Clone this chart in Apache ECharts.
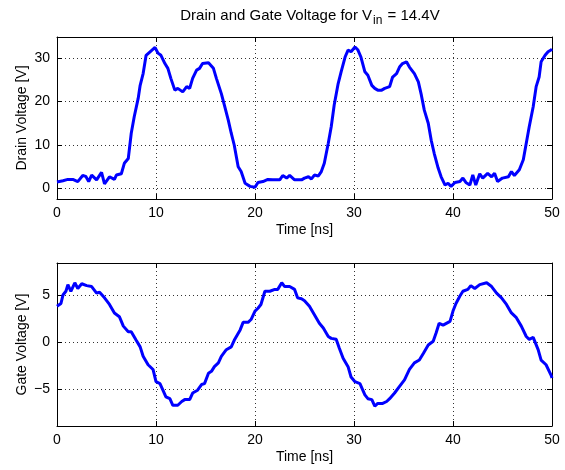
<!DOCTYPE html>
<html>
<head>
<meta charset="utf-8">
<script src="https://cdn.jsdelivr.net/npm/echarts@6/dist/echarts.min.js"></script>
<style>
  html, body { margin: 0; padding: 0; background: #fff; }
  #main { width: 565px; height: 470px; }
</style>
</head>
<body>
<div id="main"></div>
<script>
// drain voltage trace (ns, V)
const drainTime = [
  0, 0.1, 0.6, 1.1, 1.6, 2.1, 2.6, 2.9, 3.2, 3.5,
  4.0, 4.5, 4.8, 5.3, 5.8, 6.0, 6.5, 6.8, 7.2, 7.5,
  7.8, 8.2, 8.4, 8.7, 9.0, 9.4, 9.9, 10.2, 10.5, 10.9,
  11.2, 11.5, 11.9, 12.2, 12.7, 13.1, 13.4, 13.7, 14.1, 14.4,
  14.7, 15.3, 15.8, 16.1, 16.6, 16.9, 17.3, 17.6, 17.9, 18.3,
  18.6, 19.0, 19.5, 20.0, 20.3, 20.8, 21.3, 21.8, 22.5, 22.8,
  23.2, 23.5, 24.0, 24.7, 25.0, 25.4, 25.7, 26.0, 26.4, 26.7,
  27.0, 27.4, 27.7, 28.0, 28.4, 28.7, 29.1, 29.4, 29.7, 30.1,
  30.4, 30.7, 31.1, 31.4, 31.8, 32.1, 32.4, 32.8, 33.1, 33.6,
  33.9, 34.3, 34.6, 34.9, 35.3, 35.6, 36.1, 36.5, 36.8, 37.1,
  37.5, 37.8, 38.1, 38.5, 38.8, 39.2, 39.5, 39.8, 40.2, 40.7,
  41.0, 41.3, 41.7, 42.0, 42.3, 42.7, 43.0, 43.5, 43.9, 44.2,
  44.5, 45.0, 45.6, 45.9, 46.2, 46.7, 47.1, 47.4, 47.7, 48.1,
  48.4, 48.7, 48.9, 49.3, 49.6, 49.9, 50
];
const drainVolt = [
  1.5, 1.2, 1.8, 2.1, 2.1, 1.6, 3.0, 2.8, 1.6, 3.1,
  2.0, 3.7, 1.1, 2.7, 2.1, 3.1, 3.4, 5.8, 6.9, 12.7,
  16.5, 20.7, 23.7, 26.4, 30.6, 31.4, 32.4, 31.1, 30.6, 28.7,
  27.6, 25.3, 22.6, 23.0, 22.2, 23.4, 23.0, 25.3, 27.2, 27.6,
  28.7, 28.9, 27.6, 25.3, 21.8, 19.2, 15.7, 12.7, 10.0, 5.0,
  3.9, 1.2, 0.5, 0.3, 1.4, 1.6, 2.1, 2.0, 2.0, 3.0,
  2.4, 3.0, 2.0, 2.0, 2.4, 2.7, 2.2, 3.1, 2.9, 3.9,
  5.8, 10.4, 14.2, 19.2, 24.1, 26.8, 30.2, 31.8, 31.4, 32.5,
  31.8, 30.2, 26.8, 26.0, 23.7, 23.0, 22.6, 22.6, 23.0, 23.4,
  25.6, 26.4, 27.9, 28.7, 29.1, 27.9, 26.4, 24.5, 21.5, 18.0,
  15.0, 11.1, 8.1, 4.7, 2.7, 0.8, 1.2, 0.5, 1.4, 1.6,
  2.4, 1.4, 0.8, 3.1, 0.8, 3.4, 2.4, 3.5, 2.7, 3.5,
  1.6, 2.4, 2.7, 3.9, 3.0, 4.3, 6.6, 10.4, 14.2, 18.8,
  23.4, 25.6, 29.1, 30.6, 31.4, 31.8, 32.0
];

// gate voltage trace (ns, V)
const gateTime = [
  0, 0.1, 0.4, 0.6, 0.9, 1.1, 1.4, 1.8, 2.1, 2.5,
  3.0, 3.5, 4.0, 4.3, 4.8, 5.3, 5.8, 6.3, 6.7, 7.2,
  7.5, 8.0, 8.4, 8.7, 9.2, 9.7, 10.0, 10.4, 10.7, 11.0,
  11.4, 11.7, 12.2, 12.6, 12.9, 13.4, 13.7, 14.2, 14.6, 14.9,
  15.3, 15.6, 15.9, 16.3, 16.6, 17.1, 17.6, 17.9, 18.5, 18.8,
  19.3, 19.6, 20.0, 20.3, 20.6, 21.0, 21.5, 22.0, 22.3, 22.7,
  23.0, 23.5, 24.0, 24.3, 24.7, 25.0, 25.5, 26.0, 26.5, 26.9,
  27.4, 27.7, 28.2, 28.5, 28.9, 29.4, 29.7, 30.1, 30.6, 31.1,
  31.4, 31.8, 32.1, 32.4, 32.9, 33.3, 33.6, 34.1, 34.6, 35.1,
  35.6, 36.1, 36.6, 37.0, 37.5, 38.0, 38.3, 38.6, 39.0, 39.7,
  40.0, 40.3, 40.7, 41.0, 41.5, 41.8, 42.2, 42.7, 43.4, 43.9,
  44.4, 44.9, 45.4, 45.9, 46.4, 46.9, 47.4, 47.7, 48.1, 48.6,
  48.9, 49.4, 49.9, 50
];
const gateVolt = [
  3.8, 4.0, 4.1, 5.0, 5.4, 6.1, 5.4, 6.3, 5.7, 6.2,
  6.0, 5.9, 5.2, 5.3, 4.7, 4.0, 3.1, 2.7, 1.7, 1.1,
  1.1, 0.2, -0.5, -1.5, -2.4, -2.9, -4.2, -4.4, -5.1, -5.8,
  -6.0, -6.7, -6.7, -6.3, -6.1, -6.1, -5.4, -5.1, -4.5, -4.4,
  -3.3, -3.1, -2.6, -2.2, -1.5, -0.8, -0.5, 0.2, 1.3, 2.1,
  2.1, 2.4, 3.3, 3.6, 4.0, 5.4, 5.4, 5.6, 5.6, 6.3,
  5.9, 5.9, 5.6, 4.7, 4.6, 4.4, 3.8, 2.9, 2.0, 1.5,
  0.6, 0.4, 0.3, -0.6, -1.7, -2.6, -3.7, -4.2, -4.4, -5.6,
  -6.0, -6.1, -6.8, -6.5, -6.5, -6.3, -6.0, -5.4, -4.7, -4.0,
  -2.9, -2.2, -1.9, -1.2, -0.3, 0.1, 1.0, 2.0, 1.8, 2.2,
  3.3, 4.1, 4.9, 5.4, 5.6, 6.0, 5.7, 6.1, 6.3, 5.9,
  5.2, 4.7, 4.0, 3.1, 2.6, 1.7, 0.6, 0.3, 0.5, -0.8,
  -1.9, -2.4, -3.5, -3.8
];

const timeTicks = [0, 10, 20, 30, 40, 50];
const drainTicks = [0, 10, 20, 30];
const gateTicks = [-5, 0, 5];

const FONT = 'Liberation Sans, Arial, Helvetica, sans-serif';
const chart = echarts.init(document.getElementById('main'));

const dotted = { show: true, lineStyle: { color: '#333', type: [1, 3], width: 1 } };
const minus = v => String(v).replace('-', '\u2212');
const boxLine = { show: true, onZero: false, lineStyle: { color: '#000', width: 1 } };

function timeAxis(gi) {
  return {
    type: 'value', gridIndex: gi, min: 0, max: 50, interval: 10,
    axisLine: boxLine,
    axisTick: { inside: true, length: 5, customValues: timeTicks, lineStyle: { color: '#000' } },
    axisLabel: { customValues: timeTicks, margin: 7, color: '#000', fontSize: 14, fontFamily: FONT },
    splitLine: dotted,
    name: 'Time [ns]', nameLocation: 'middle', nameGap: 24, nameMoveOverlap: false,
    nameTextStyle: { color: '#000', fontSize: 14, fontFamily: FONT }
  };
}
function topAxis(gi) {
  return {
    type: 'value', gridIndex: gi, position: 'top', min: 0, max: 50, interval: 10,
    axisLine: boxLine,
    axisTick: { inside: true, length: 5, customValues: timeTicks, lineStyle: { color: '#000' } },
    axisLabel: { show: false }, splitLine: { show: false }
  };
}
function voltAxis(gi, lo, hi, ticks, name) {
  return {
    type: 'value', gridIndex: gi, min: lo, max: hi,
    axisLine: boxLine,
    axisTick: { show: true, inside: true, length: 5, customValues: ticks, lineStyle: { color: '#000' } },
    axisLabel: { customValues: ticks, margin: 7, color: '#000', fontSize: 14, fontFamily: FONT, formatter: minus },
    splitLine: dotted,
    name: name, nameLocation: 'middle', nameGap: 28, nameRotate: 90, nameMoveOverlap: false,
    nameTextStyle: { color: '#000', fontSize: 14, fontFamily: FONT }
  };
}
function rightAxis(gi, lo, hi, ticks) {
  return {
    type: 'value', gridIndex: gi, position: 'right', min: lo, max: hi,
    axisLine: boxLine,
    axisTick: { show: true, inside: true, length: 5, customValues: ticks, lineStyle: { color: '#000' } },
    axisLabel: { show: false }, splitLine: { show: false }
  };
}

chart.setOption({
  animation: false,
  backgroundColor: '#fff',
  title: {
    text: '{a|Drain and Gate Voltage for V}{s|in}{a| = 14.4V}',
    left: 305, top: 3, textAlign: 'center',
    textStyle: {
      fontWeight: 'normal',
      rich: {
        a: { fontSize: 15, fontFamily: FONT, fontWeight: 'normal', color: '#000', lineHeight: 17, verticalAlign: 'top' },
        s: { fontSize: 12, fontFamily: FONT, fontWeight: 'normal', color: '#000', lineHeight: 14, verticalAlign: 'top', padding: [7, 1, 0, 1] }
      }
    }
  },
  grid: [
    { left: 57, top: 37, width: 495, height: 162 },
    { left: 57, top: 263, width: 495, height: 163 }
  ],
  xAxis: [timeAxis(0), topAxis(0), timeAxis(1), topAxis(1)],
  yAxis: [
    voltAxis(0, -2.4, 34.8, drainTicks, 'Drain Voltage [V]'),
    rightAxis(0, -2.4, 34.8, drainTicks),
    voltAxis(1, -8.9, 8.4, gateTicks, 'Gate Voltage [V]'),
    rightAxis(1, -8.9, 8.4, gateTicks)
  ],
  series: [
    {
      type: 'line', xAxisIndex: 0, yAxisIndex: 0, showSymbol: false,
      lineStyle: { color: '#0000ff', width: 3 },
      data: drainTime.map((t, i) => [t, drainVolt[i]])
    },
    {
      type: 'line', xAxisIndex: 2, yAxisIndex: 2, showSymbol: false,
      lineStyle: { color: '#0000ff', width: 3 },
      data: gateTime.map((t, i) => [t, gateVolt[i]])
    }
  ]
});
</script>
</body>
</html>
